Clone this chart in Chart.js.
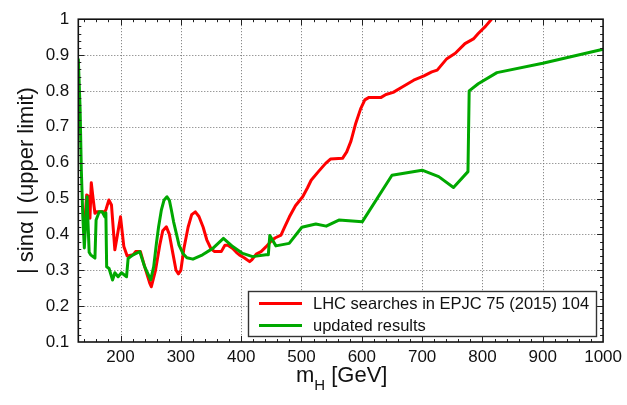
<!DOCTYPE html>
<html><head><meta charset="utf-8">
<script src="https://cdn.jsdelivr.net/npm/chart.js@4/dist/chart.umd.min.js"></script>
<style>html,body{margin:0;padding:0;background:#fff}#wrap{width:627px;height:405px}</style>
</head><body><div id="wrap"><canvas id="c" width="627" height="405"></canvas></div>
<script>
const xTicks = [200, 300, 400, 500, 600, 700, 800, 900, 1000];
const yTicks = [0.1, 0.2, 0.3, 0.4, 0.5, 0.6, 0.7, 0.8, 0.9, 1];
const seriesLabels = ["LHC searches in EPJC 75 (2015) 104", "updated results"];
const seriesColors = ["#ff0000", "#00a800"];

const redX = [141, 143.9, 147.7, 149.3, 151.5, 154.8, 157.6, 160.4, 174, 176, 180.7, 185, 190.6, 195, 200, 205.5, 211, 220.8, 225, 233, 240, 248.4, 251,
  258, 265, 270, 276, 281, 287, 292, 296, 300, 305, 312, 318, 324, 330, 337, 343, 350, 356, 367, 373, 378, 386, 392, 397, 405, 414, 418, 425, 433, 441, 449, 456, 466,
  472, 480, 490, 502, 510, 516, 528, 540, 548, 568, 575, 582, 590, 598, 605, 612, 632, 640, 652, 667, 686, 703, 716, 725, 741, 755, 771, 785, 793, 805, 815];
const redY = [0.44, 0.51, 0.505, 0.445, 0.544, 0.496, 0.459, 0.463, 0.463, 0.47, 0.496, 0.482, 0.357, 0.40, 0.449, 0.366, 0.34, 0.343, 0.352, 0.352, 0.31, 0.264, 0.254,
  0.30, 0.37, 0.41, 0.421, 0.40, 0.345, 0.30, 0.29, 0.30, 0.36, 0.42, 0.455, 0.463, 0.45, 0.42, 0.385, 0.36, 0.352, 0.352, 0.37, 0.37, 0.361, 0.35, 0.343, 0.335, 0.324, 0.33, 0.345, 0.352, 0.365, 0.38, 0.39, 0.398,
  0.42, 0.449, 0.48, 0.505, 0.53, 0.551, 0.575, 0.598, 0.61, 0.612, 0.63, 0.66, 0.71, 0.75, 0.775, 0.782, 0.782, 0.79, 0.796, 0.811, 0.83, 0.842, 0.853, 0.858, 0.89, 0.905, 0.932, 0.945, 0.96, 0.98, 1.0];

const greenX = [130, 131, 133, 135, 137.5, 140, 144.5, 148, 150.5, 157.6, 159.5, 164.7, 169.6, 174, 175.7, 177, 181, 186.8, 190.6, 196, 201.6, 210, 212.6, 220.8, 231.9, 240, 250,
  255, 259.5, 263, 267.7, 272, 277, 281, 284.3, 288, 292.5, 297, 303.4, 310, 320, 336, 353, 370.6, 386, 402.5, 419, 441, 445, 447.5, 457.6, 479.6, 500.6, 523.7, 541, 562, 600.7,
  650, 700, 727.5, 752, 776, 778, 793, 824, 900, 1000];
const greenY = [0.89, 0.89, 0.75, 0.58, 0.45, 0.362, 0.505, 0.35, 0.343, 0.334, 0.44, 0.463, 0.463, 0.449, 0.46, 0.31, 0.305, 0.273, 0.293, 0.282, 0.293, 0.282, 0.333, 0.343, 0.352, 0.31, 0.273,
  0.31, 0.375, 0.42, 0.468, 0.495, 0.505, 0.495, 0.468, 0.435, 0.403, 0.37, 0.347, 0.335, 0.331, 0.343, 0.361, 0.389, 0.366, 0.347, 0.338, 0.343, 0.343, 0.397, 0.368, 0.375, 0.42, 0.429, 0.423, 0.44, 0.435,
  0.565, 0.579, 0.561, 0.531, 0.575, 0.80, 0.82, 0.851, 0.877, 0.916];

const FONT = '"Liberation Sans", Arial, Helvetica, sans-serif';

const decor = {
  id: 'decor',
  beforeDatasetsDraw(chart) {
    const {ctx, chartArea: a, scales: {x, y}} = chart;
    ctx.save();
    ctx.strokeStyle = '#707070';
    ctx.lineWidth = 1;
    ctx.setLineDash([1, 2]);
    xTicks.forEach(v => {
      if (v <= x.min || v >= x.max) return;
      const p = Math.round(x.getPixelForValue(v)) + 0.5;
      ctx.beginPath(); ctx.moveTo(p, a.top); ctx.lineTo(p, a.bottom); ctx.stroke();
    });
    yTicks.forEach(v => {
      if (v <= y.min + 1e-9 || v >= y.max - 1e-9) return;
      const p = Math.round(y.getPixelForValue(v)) + 0.5;
      ctx.beginPath(); ctx.moveTo(a.left, p); ctx.lineTo(a.right, p); ctx.stroke();
    });
    ctx.restore();
  },
  afterDatasetsDraw(chart) {
    const {ctx, chartArea: a, scales: {x, y}} = chart;
    ctx.save();
    // minor/major ticks
    ctx.strokeStyle = '#222';
    ctx.lineWidth = 1;
    ctx.setLineDash([]);
    for (let v = 140; v < 1000; v += 20) {
      const p = Math.round(x.getPixelForValue(v)) + 0.5;
      const len = (v % 100 === 0) ? 6 : 3;
      ctx.beginPath();
      ctx.moveTo(p, a.bottom); ctx.lineTo(p, a.bottom - len);
      ctx.moveTo(p, a.top); ctx.lineTo(p, a.top + len);
      ctx.stroke();
    }
    for (let i = 6; i < 50; i++) {
      const v = i * 0.02;
      const p = Math.round(y.getPixelForValue(v)) + 0.5;
      const len = (i % 5 === 0) ? 6 : 3;
      ctx.beginPath();
      ctx.moveTo(a.left, p); ctx.lineTo(a.left + len, p);
      ctx.moveTo(a.right, p); ctx.lineTo(a.right - len, p);
      ctx.stroke();
    }
    // frame
    ctx.strokeStyle = '#111';
    ctx.lineWidth = 1.6;
    ctx.strokeRect(a.left, a.top, a.right - a.left, a.bottom - a.top);

    // legend
    const lx = 248.5, ly = 291.5, lw = 348, lh = 45;
    ctx.fillStyle = '#fff';
    ctx.fillRect(lx, ly, lw, lh);
    ctx.strokeStyle = '#333';
    ctx.lineWidth = 1.4;
    ctx.strokeRect(lx, ly, lw, lh);
    ctx.font = '16.5px ' + FONT;
    ctx.textBaseline = 'middle';
    ctx.textAlign = 'left';
    const rows = [303.5, 325.5];
    seriesLabels.forEach((lab, i) => {
      ctx.strokeStyle = seriesColors[i];
      ctx.lineWidth = 3;
      ctx.beginPath(); ctx.moveTo(259, rows[i]); ctx.lineTo(302, rows[i]); ctx.stroke();
      ctx.fillStyle = '#111';
      ctx.fillText(lab, 313, rows[i] + 1);
    });

    // x title m_H [GeV]
    ctx.fillStyle = '#111';
    ctx.textBaseline = 'alphabetic';
    ctx.font = '22px ' + FONT;
    const mW = ctx.measureText('m').width;
    ctx.font = '15px ' + FONT;
    const hW = ctx.measureText('H').width;
    ctx.font = '22px ' + FONT;
    const restW = ctx.measureText(' [GeV]').width;
    const total = mW + hW + restW;
    let sx = (a.left + a.right) / 2 - total / 2 + 1;
    ctx.fillText('m', sx, 382);
    ctx.font = '15px ' + FONT;
    ctx.fillText('H', sx + mW, 390);
    ctx.font = '22px ' + FONT;
    ctx.fillText(' [GeV]', sx + mW + hW, 382);

    // y title
    ctx.save();
    ctx.translate(27, (a.top + a.bottom) / 2);
    ctx.rotate(-Math.PI / 2);
    ctx.textAlign = 'center';
    ctx.textBaseline = 'middle';
    ctx.font = '22px ' + FONT;
    ctx.fillText('| sin\u03B1 | (upper limit)', 0, 0);
    ctx.restore();

    ctx.restore();
  }
};

const mk = (xs, ys) => xs.map((v, i) => ({x: v, y: ys[i]}));

new Chart(document.getElementById('c'), {
  type: 'line',
  data: {
    datasets: [
      {label: seriesLabels[1], data: mk(greenX, greenY), borderColor: seriesColors[1], borderWidth: 3, pointRadius: 0, tension: 0, fill: false, borderJoinStyle: 'round'},
      {label: seriesLabels[0], data: mk(redX, redY), borderColor: seriesColors[0], borderWidth: 3, pointRadius: 0, tension: 0, fill: false, borderJoinStyle: 'round'}
    ]
  },
  options: {
    responsive: false,
    animation: false,
    devicePixelRatio: 1,
    layout: {padding: {left: 0, right: 21.3, top: 19, bottom: 0}},
    plugins: {legend: {display: false}, tooltip: {enabled: false}},
    scales: {
      x: {
        type: 'linear', min: 130, max: 1000,
        afterBuildTicks: s => { s.ticks = xTicks.map(v => ({value: v})); },
        afterFit: s => { s.height = 63; },
        grid: {display: false, drawTicks: false},
        border: {display: false},
        ticks: {font: {size: 17, family: FONT}, color: '#111', padding: 5, maxRotation: 0, autoSkip: false,
          callback: v => String(v)}
      },
      y: {
        type: 'linear', min: 0.1, max: 1,
        afterBuildTicks: s => { s.ticks = yTicks.map(v => ({value: v})); },
        afterFit: s => { s.width = 78.3; },
        grid: {display: false, drawTicks: false},
        border: {display: false},
        ticks: {font: {size: 17, family: FONT}, color: '#111', padding: 9, autoSkip: false,
          callback: v => (Math.abs(v - 1) < 1e-9 ? '1' : v.toFixed(1))}
      }
    }
  },
  plugins: [decor]
});
</script>
</body></html>
